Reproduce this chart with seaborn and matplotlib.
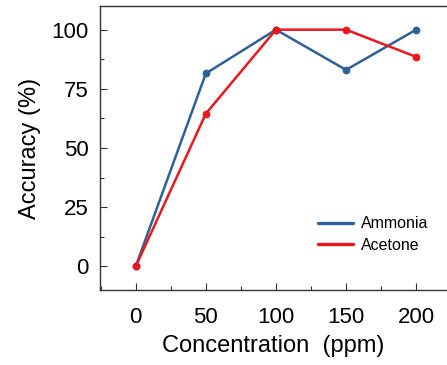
import matplotlib
matplotlib.use("Agg")
import matplotlib.pyplot as plt
import seaborn as sns
import pandas as pd
from matplotlib.ticker import MultipleLocator
from matplotlib.lines import Line2D

concentration = [0, 50, 100, 150, 200]
ammonia = [0, 81.5, 100, 83, 100]
acetone = [0, 64.5, 100, 100, 88.5]
x_ticks = [0, 50, 100, 150, 200]
y_ticks = [0, 25, 50, 75, 100]

sns.set_style("ticks")
plt.rcParams['font.family'] = ['Liberation Sans', 'DejaVu Sans']
plt.rcParams['text.color'] = 'black'
plt.rcParams['axes.labelcolor'] = 'black'
plt.rcParams['xtick.color'] = 'black'
plt.rcParams['ytick.color'] = 'black'

df = pd.DataFrame({
    "Concentration": concentration * 2,
    "Accuracy": ammonia + acetone,
    "Gas": ["Ammonia"] * len(concentration) + ["Acetone"] * len(concentration),
})

fig = plt.figure(figsize=(4.47, 3.65), dpi=100)
ax = fig.add_axes([100 / 447, 1 - 290 / 365, 347 / 447, 284 / 365])

palette = {"Ammonia": "#2f6199", "Acetone": "#e8181d"}
sns.lineplot(data=df, x="Concentration", y="Accuracy", hue="Gas", palette=palette,
             marker="o", markersize=5, linewidth=1.8, markeredgewidth=0.6,
             ax=ax, legend=False)
for line in ax.lines:
    line.set_markeredgecolor(line.get_color())

ax.set_xlim(-25.5, 222)
ax.set_ylim(-10, 110)
ax.set_xticks(x_ticks)
ax.set_yticks(y_ticks)
ax.xaxis.set_minor_locator(MultipleLocator(25))
ax.yaxis.set_minor_locator(MultipleLocator(12.5))
ax.tick_params(axis="x", which="major", direction="in", length=5, width=0.8, labelsize=16, pad=12, color="#333333")
ax.tick_params(axis="y", which="major", direction="in", length=5, width=0.8, labelsize=16, pad=8, color="#333333")
ax.tick_params(which="minor", direction="in", length=3, width=0.8, color="#333333")
for s in ["left", "bottom", "top"]:
    ax.spines[s].set_linewidth(1.0)
    ax.spines[s].set_color("#333333")
ax.spines["right"].set_visible(False)

ax.set_xlabel("Concentration  (ppm)", fontsize=17, labelpad=5)
ax.set_ylabel("Accuracy (%)", fontsize=17, labelpad=8)

handles = [Line2D([], [], color=palette[g], linewidth=2.4) for g in ["Ammonia", "Acetone"]]
ax.legend(handles, ["Ammonia", "Acetone"], loc="lower left", bbox_to_anchor=(0.586, 0.08),
          frameon=False, fontsize=11.5, handlelength=2.2, handletextpad=0.5, labelspacing=0.42)

fig.savefig("out.png", dpi=100)
